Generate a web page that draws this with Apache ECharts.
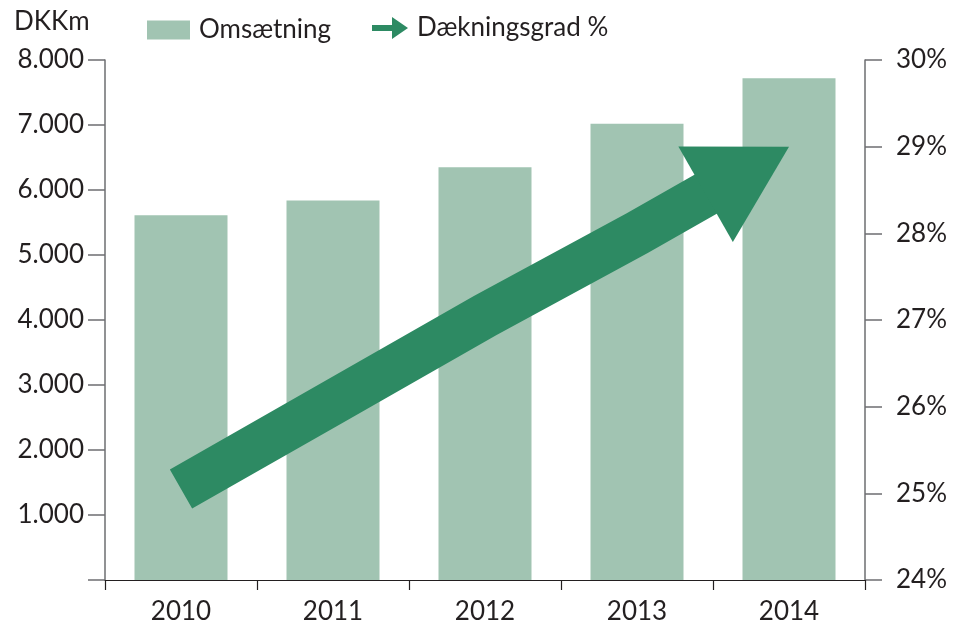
<!DOCTYPE html>
<html>
<head>
<meta charset="utf-8">
<script src="https://cdn.jsdelivr.net/npm/echarts@6/dist/echarts.min.js"></script>
<style>
html,body{margin:0;padding:0;background:#fff;}
#chart{width:954px;height:626px;}
</style>
</head>
<body>
<div id="chart"></div>
<script>
var years = ['2010', '2011', '2012', '2013', '2014'];
var omsaetning = [5610, 5840, 6350, 7020, 7720];
var daekningsgrad = [25.05, 26.05, 27.05, 28.0, 29.0];
var leftTicks = [0, 1000, 2000, 3000, 4000, 5000, 6000, 7000, 8000];
var rightTicks = [24, 25, 26, 27, 28, 29, 30];

var FONT = 'Lato, "Open Sans", sans-serif';
var FS = 26;
var TXT = '#231f20';
var BAR = '#a1c4b2';
var ARROW = '#2d8a63';

var chart = echarts.init(document.getElementById('chart'), null, {renderer: 'canvas'});

function renderArrow(params, api) {
  if (params.dataIndex !== daekningsgrad.length - 1) return null;
  var pts = daekningsgrad.map(function (v, i) { return api.coord([years[i], v]); });
  var n = pts.length;
  var tip = pts[n - 1], prev = pts[n - 2];
  var dx = tip[0] - prev[0], dy = tip[1] - prev[1];
  var len = Math.sqrt(dx * dx + dy * dy);
  var ux = dx / len, uy = dy / len;
  var px = -uy, py = ux;
  var headLen = 96, headHalf = 55, shaftW = 45;
  var base = [tip[0] - ux * headLen, tip[1] - uy * headLen];
  var shaft = pts.slice(0, n - 1).concat([[base[0] + ux * 3, base[1] + uy * 3]]);
  var head = [tip, [base[0] + px * headHalf, base[1] + py * headHalf], [base[0] - px * headHalf, base[1] - py * headHalf]];
  return {
    type: 'group',
    children: [
      {type: 'polyline', shape: {points: shaft}, style: {stroke: ARROW, lineWidth: shaftW, lineCap: 'butt', lineJoin: 'miter', fill: null}},
      {type: 'polygon', shape: {points: head}, style: {fill: ARROW}}
    ]
  };
}

var option = {
  animation: false,
  backgroundColor: '#fff',
  textStyle: {fontFamily: FONT, color: TXT},
  title: {
    text: 'DKKm', left: 14, top: 9, padding: 0,
    textStyle: {fontFamily: FONT, fontSize: FS, fontWeight: 'normal', color: TXT}
  },
  legend: [
    {
      data: [{name: 'Omsætning', icon: 'rect'}],
      left: 147, top: 17, padding: 0, itemWidth: 43, itemHeight: 19,
      textStyle: {fontFamily: FONT, fontSize: FS, color: TXT, padding: [0, 0, 0, 4]}
    },
    {
      data: [{name: 'Dækningsgrad %', icon: 'path://M0,8 L20,8 L20,0 L36,11 L20,22 L20,14 L0,14 Z'}],
      left: 372, top: 15, padding: 0, itemWidth: 36, itemHeight: 22,
      textStyle: {fontFamily: FONT, fontSize: FS, color: TXT, padding: [0, 0, 0, 4]}
    }
  ],
  grid: {left: 105, right: 89, top: 60, bottom: 46, containLabel: false},
  xAxis: {
    type: 'category',
    data: years,
    axisLine: {lineStyle: {color: '#231f20', width: 1.2}},
    axisTick: {show: true, length: 10, lineStyle: {color: '#231f20', width: 1.2}},
    axisLabel: {fontFamily: FONT, fontSize: FS, color: TXT, margin: 19}
  },
  yAxis: [
    {
      type: 'value', min: 0, max: 8000, interval: 1000,
      axisLine: {show: true, lineStyle: {color: '#6d6e71', width: 1.5}},
      axisTick: {show: true, length: 17, lineStyle: {color: '#6d6e71', width: 1.5}},
      splitLine: {show: false},
      axisLabel: {
        fontFamily: FONT, fontSize: FS, color: TXT, margin: 21,
        formatter: function (v) { return v === 0 ? '' : (v / 1000).toFixed(0) + '.000'; }
      }
    },
    {
      type: 'value', min: 24, max: 30, interval: 1, position: 'right',
      axisLine: {show: true, lineStyle: {color: '#6d6e71', width: 1.5}},
      axisTick: {show: true, length: 17, lineStyle: {color: '#6d6e71', width: 1.5}},
      splitLine: {show: false},
      axisLabel: {fontFamily: FONT, fontSize: FS, color: TXT, margin: 31, formatter: '{value}%'}
    }
  ],
  series: [
    {
      name: 'Omsætning', type: 'bar', data: omsaetning, barWidth: 93,
      itemStyle: {color: BAR}, z: 2
    },
    {
      name: 'Dækningsgrad %', type: 'custom', yAxisIndex: 1, clip: false,
      itemStyle: {color: ARROW}, z: 5,
      renderItem: renderArrow,
      encode: {x: 0, y: 1},
      data: daekningsgrad.map(function (v, i) { return [years[i], v]; })
    }
  ]
};
chart.setOption(option);
</script>
</body>
</html>
